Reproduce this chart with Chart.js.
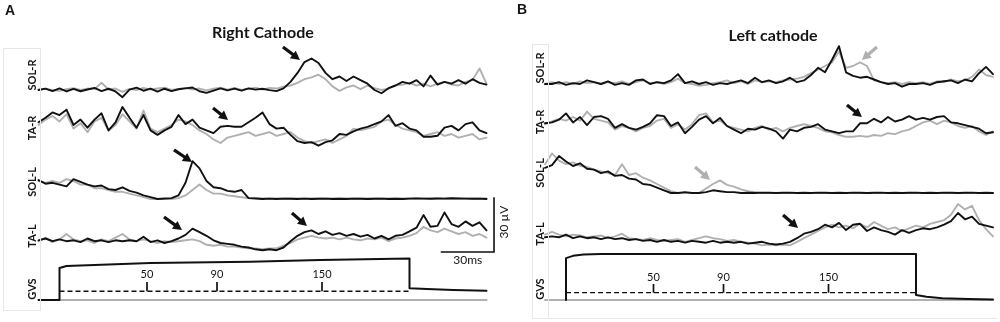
<!DOCTYPE html>
<html><head><meta charset="utf-8">
<script src="https://cdn.jsdelivr.net/npm/chart.js@4.4.1/dist/chart.umd.min.js"></script>
<style>
html,body{margin:0;padding:0;background:#fff;width:1000px;height:322px;overflow:hidden;position:relative}
.wrap{position:absolute;top:0;height:322px}
#wa{left:0;width:520px}
#wb{left:500px;width:500px}
canvas{display:block}
</style></head><body>
<div class="wrap" id="wa"><canvas id="ca" width="520" height="322"></canvas></div>
<div class="wrap" id="wb"><canvas id="cb" width="500" height="322"></canvas></div>
<script>
// ---------------- DATA (time in ms relative to GVS onset, EMG in µV relative to each trace baseline) -------------
const T = [-12,-8,-4,0,4,8,12,16,20,24,28,32,36,40,44,48,52,56,60,64,68,72,76,80,84,88,92,96,100,104,108,112,116,120,124,128,132,136,140,144,148,152,156,160,164,168,172,176,180,184,188,192,196,200,204,208,212,216,220,224,228,232,236,240,244];

// Panel A – Right cathode
const A_SOLR_BLACK = [0,0.8,-0.6,0.9,-0.8,0.6,-0.7,0.3,1.2,-0.6, 0.7,-0.8,-4,0.2,1.3,-0.4,0.8,-0.9,0.7,-0.6, 0.4,0.9,1.4,-0.7,-1.6,-0.3,0.9,-0.2,0.8,-0.3, 0.9,0.2,0.7,-0.1,-0.6,0.9,4.5,9.5,15.5,17.5, 15,9.5,6,7.5,5,7.5,5.5,3.5,0,-1.8, 1,2.5,4.5,3.5,5.5,2,8,3,4.5,3.5, 5.5,3.5,6,4,3];
const A_SOLR_GRAY  = [0.3,0.6,0,-0.5,0.4,1,0,0.8,0.5,4, 0.3,0.8,-1,0.6,0,1.2,0.2,0.8,1.3,0, 0.6,1.2,0.2,0.8,-0.2,0.7,1.3,0.2,1.2,0.1, 0.7,1.3,0.2,1.2,0.8,1.8,2.5,4,6,7, 8.5,6,2,-0.5,1.5,2.5,0.5,2.5,1,0, 0.8,2.5,3,4,2.5,3.5,2,3.5,4.5,3, 2.5,4.5,5.5,12,3.5];
const A_TAR_BLACK  = [1.5,4,7,5.5,8.5,0,3,-1.5,3,6.5, -3,1.5,10,4,-1.5,5.5,-3,-5.5,-3,-1, 5.5,0.5,3,-1.5,-3,-4.5,-1,-0.5,-1,-1, 1.5,4,7,0.5,-2,-1.5,-5.5,-9,-10,-9.5, -11.5,-9.5,-8.5,-5,-5.5,-3.5,-2,-1,0.5,2, 5.5,-0.5,1,-2,-3,-6.5,-6.5,-6,-1.5,-0.5, -3,0.5,1.5,-3,-4.5];
const A_TAR_GRAY   = [0,3,5,2,6,-2,1,-4,2,4, -3,0,6,2,-2,8,-2,-4,-2,0, 3,2,0,-3,-5,-8,-10,-7,-6,-5, -4,-6,-5,-4,-6,-5,-4,-7,-9,-10, -9,-8,-10,-8,-6,-2,-3,-2,-1,2, 3,0,-2,-3,-4,-6,-5,-4,-6,-5, -7,-6,-5,-8,-7];
const A_SOLL_BLACK = [10.5,8.5,9,8,7,11,9.5,8,7,7.5, 5.5,5,6.5,4.5,3.5,2,1,0,0.3,0.5, 2,9,21,17,10,6.5,6,4.5,4,5, 0.5,0.3,0,0.2,0,0.2,0.1,0,0.2,0, 0.1,0.2,0,0.1,0,0.2,0.1,0,0.1,0.2, 0,0.1,0,0.2,0.3,0.2,0.1,0.3,0.2,0.4, 0.3,0.2,0.1,0.2,0];
const A_SOLL_GRAY  = [10,9,10,9,11,10,8,8,6,6, 5,4,4,3,2,1,0,0,0,0, 0.5,2,5,8,5,3,3,2,1.5,1, 0.5,0.5,0.3,0.3,0.3,0.3,0.3,0.3,0.3,0.3, 0.3,0.3,0.3,0.3,0.3,0.3,0.3,0.3,0.3,0.3, 0.3,0.3,0.3,0.3,0.3,0.3,0.3,0.3,0.3,0.3, 0.3,0.3,0.3,0.3,0.3];
const A_TAL_BLACK  = [1.5,2.5,1,2,1,1.5,0.5,2.5,1,1.5, 0.5,1.5,1,1.5,1,3.5,0.5,1.5,0,1, 2.5,4.5,8,6,4,1.5,0,-0.5,-1,-2, -2.5,-3.5,-4,-3.5,-4,-2.5,1,4,6,7, 5,6.5,4.5,5.5,4,5,3.5,4.5,2.5,4, 2,4,4.5,6.5,8.5,15.5,9,9.5,17,10.5, 9,12,9.5,11.5,7];
const A_TAL_GRAY   = [1,3,0.5,2,5,2,1,1.5,0,2, 1,3,5,2,1,2,1,0,1,0.5, 1,1.5,2,1,-1,-1.5,-1,-2,-2,-2.5, -3,-3,-3.5,-3,-3,-1.5,0,2,3,4, 3,2.5,3,2,3,2,1.5,2.5,2,3, 1,2.5,3,4,5.5,9,7,6,8,6.5, 5,6,4,5,3];
const A_GVS_T      = [-12,0,0,4,52,109,149,200,200,210,225,244];
const A_GVS_BLACK  = [0,0,0.76,0.81,0.88,0.91,0.95,0.99,0.28,0.26,0.24,0.22];
const A_GVS_GRAY_T = [0,244];
const A_GVS_GRAY   = [0,0];

// Panel B – Left cathode
const B_SOLR_BLACK = [0,0,1,-0.5,0.5,0,2,1,0,1.5, -0.5,0.5,-0.5,2,2.5,0,1,0.5,2,5.5, 0.5,1.5,0,1,-0.5,0.5,0,1,2,0.5, 3.5,1,2,0.5,1.5,3.5,1,2,5,9, 6.5,13.5,21,6.5,4.5,3.5,4,2.5,1,0, 0.5,-1.5,0,0,0.5,-0.5,1,1.5,2,0.5, 2.5,1.5,6,9.5,5.5];
const B_SOLR_GRAY  = [0,1,0,1,0,1.5,0.5,1,0,1, 0.5,1.5,0,1,2,0.5,1,0,1,3, 0.5,0,-1,-0.5,0.5,1,2,0.5,1.5,0, 2,1,1.5,1,2,2.5,3,4,6,8, 10,12,18,9,10,12,10,2,1,0.5, 1,0,1,0.5,1,0,1.5,1,2.5,1.5, 2,4,8,5,4];
const B_TAR_BLACK  = [1.5,2,3.5,7,2,5,0.5,5,5.5,4, -1,1,-1,-2,-0.5,1.5,6,5.5,0,2, -4,-0.5,3.5,5.5,1.5,4.5,0,-2,-4,-1.5, -2,-0.5,-1.5,-3,-7,-2,-3,-1,-0.5,1, -2,-3,-4,-3,-3,1.5,1.5,4,2,5, 2.5,3.5,5.5,3.5,4.5,3.5,5,5.5,2,1.5, 0.5,-0.5,-1.5,-4,-3.5];
const B_TAR_GRAY   = [1,2.5,4,3,5,3,8,4,3,2, -2,0,-1,-3,-1,0,3,4,-1,1, -2,1,6,7,2,3,0,-1,-2,-3, -1,0,-2,-1,-3,-1,0,1,0,-1, -3,-3.5,-5,-6,-6,-5.5,-6,-5,-5.5,-4, -4.5,-3,-2,0,2,3,1,3,2,0, -1,0,-3,-5,-3];
const B_SOLL_BLACK = [14,15.5,20.5,17.5,15,16.5,13.5,13,11,12, 9.5,10,8,7.5,5,4.5,3,1.5,0,0, 0.5,0,0,0.5,1.5,1,0.5,0.5,0,0.1, 0,0.2,0.1,0,0.1,0.2,0,0.1,0,0.2, 0.1,0,0.1,0,0.2,0.1,0,0.1,0.2,0, 0.1,0,0.1,0.2,0,0.1,0,0.2,0.1,0, 0.1,0.2,0,0.1,0];
const B_SOLL_GRAY  = [16,22,18,16,17,15,14.5,13,12,11, 10,16,10,11,8.5,7,5,3,1,0, 0,0,0,2.5,5,7,4.5,3.5,2,1, 0.5,0,0,0,0,0,0,0,0,0, 0,0,0,0,0,0,0,0,0,0, 0,0,0,0,0,0,0,0,0,0, 0,0,0,0,0];
const B_TAL_BLACK  = [1.5,2,1.5,3,1,2,1,1.5,0.5,1.5, 0.5,1,0,0.5,-0.5,0,-1,0,-1,-0.5, -1.5,-0.5,-1,-1.5,-0.5,-1.5,-1,-1.5,-1,-2, -1.5,-1,-2,-2.5,-2,-1,1,3.5,4.5,6, 8.5,7,9.5,5.5,8.5,9,5,7,5.5,4.5, 3,5.5,4,5.5,6.5,6,7,8.5,10.5,15, 11.5,13,9,8,7];
const B_TAL_GRAY   = [3,4.5,3,2,3,2.5,1.5,2,2.5,1, 2,3.5,1,0.5,0,1,0,-0.5,0,0.5, -1,0,1,2,1,0.5,-0.5,0,-1,-1.5, -2,-3,-2.5,-3,-2.5,-3,-1,1,3,5, 7,8.5,7,8,6.5,9,7,10,8,6, 7,5,6.5,8,7,9,10,11,14,20, 17,19,11,6,2];
const B_GVS_T      = [0,0,4,10,20,200,200,206,215,230,244];
const B_GVS_BLACK  = [0,0.91,0.96,0.99,1,1,0.11,0.07,0.04,0.02,0.01];
const B_GVS_GRAY_T = [-12,244];
const B_GVS_GRAY   = [0,0];

// time markers on the GVS ruler (ms)
const RULER_TICKS = [50, 90, 150];
const RULER_SPAN = [0, 200];
const ROW_NAMES = ['SOL-R','TA-R','SOL-L','TA-L','GVS'];
const SCALE_BAR = {ms: 30, uV: 30};

// ---------------- LAYOUT -------------
const BLACK = '#111111', GRAY = '#b0b0b0';
const AREA_TOP = 40, AREA_BOTTOM = 310;

const PANELS = [
 { id:'A', canvas:'ca', pad:{left:38.5,right:33.5,top:AREA_TOP,bottom:322-AREA_BOTTOM},
   rows:{solR:{base:90,ppu:1.8},taR:{base:125,ppu:1.8},solL:{base:199,ppu:1.8},taL:{base:243,ppu:1.8},gvs:{base:300,ppu:42}},
   traces:{solR:[A_SOLR_BLACK,A_SOLR_GRAY],taR:[A_TAR_BLACK,A_TAR_GRAY],solL:[A_SOLL_BLACK,A_SOLL_GRAY],taL:[A_TAL_BLACK,A_TAL_GRAY]},
   gvs:{t:A_GVS_T,v:A_GVS_BLACK,gt:A_GVS_GRAY_T,gv:A_GVS_GRAY},
   ruler:{level:0.21,top:0.43,label:0.6},
   labelX:32, labelY:[75,128,182,236,289],
   title:{text:'Right Cathode',x:263,y:38}, letter:{text:'A',x:5,y:4},
   frames:[[[3,48],[40,48],[40,310],[3,310],[3,48]]],
   arrows:[{row:'solR',t:137.4,v:16.7,dx:-17,dy:-13,c:BLACK},{row:'taR',t:96.3,v:2.8,dx:-15,dy:-12,c:BLACK},
           {row:'solL',t:75.7,v:20.6,dx:-18,dy:-12,c:BLACK},{row:'taL',t:70,v:7.2,dx:-18,dy:-13,c:BLACK},
           {row:'taL',t:141.4,v:9.4,dx:-15,dy:-13,c:BLACK}],
   bar:{tEnd:248.3,vBase:-5}
 },
 { id:'B', canvas:'cb', pad:{left:45,right:7,top:AREA_TOP,bottom:322-AREA_BOTTOM},
   rows:{solR:{base:84,ppu:1.8},taR:{base:126,ppu:1.8},solL:{base:193,ppu:1.8},taL:{base:240,ppu:1.8},gvs:{base:300,ppu:46}},
   traces:{solR:[B_SOLR_BLACK,B_SOLR_GRAY],taR:[B_TAR_BLACK,B_TAR_GRAY],solL:[B_SOLL_BLACK,B_SOLL_GRAY],taL:[B_TAL_BLACK,B_TAL_GRAY]},
   gvs:{t:B_GVS_T,v:B_GVS_BLACK,gt:B_GVS_GRAY_T,gv:B_GVS_GRAY},
   ruler:{level:0.16,top:0.35,label:0.48},
   labelX:40, labelY:[68,122,173,234,289],
   title:{text:'Left cathode',x:273,y:40.5}, letter:{text:'B',x:17,y:3},
   frames:[[[32,44],[48,44],[48,318],[32,318],[32,44]],[[48,318],[497,318]]],
   arrows:[{row:'solR',t:169.1,v:13.3,dx:15,dy:-13,c:GRAY},{row:'taR',t:169.1,v:5,dx:-15,dy:-12,c:BLACK},
           {row:'solL',t:82.3,v:7.2,dx:-15,dy:-13,c:GRAY},{row:'taL',t:132.6,v:6.7,dx:-15,dy:-13,c:BLACK}],
   bar:null
 }
];

function pts(ts, vs){ return ts.map((t,i)=>({x:t, y:vs[i]})); }
function ds(data, axis, color, order, extra){
  return Object.assign({data, yAxisID:axis, borderColor:color, backgroundColor:color, borderWidth:1.9,
    pointRadius:0, tension:0, fill:false, clip:false, order, borderJoinStyle:'round', borderCapStyle:'round'}, extra||{});
}
function drawArrow(ctx,x1,y1,x2,y2,color){
  const a=Math.atan2(y2-y1,x2-x1), hl=9, hw=4.8;
  const bx=x2-hl*Math.cos(a), by=y2-hl*Math.sin(a);
  ctx.strokeStyle=color; ctx.fillStyle=color; ctx.lineWidth=3.2; ctx.lineCap='butt';
  ctx.beginPath(); ctx.moveTo(x1,y1); ctx.lineTo(bx+1*Math.cos(a),by+1*Math.sin(a)); ctx.stroke();
  ctx.beginPath(); ctx.moveTo(x2,y2);
  ctx.lineTo(bx-hw*Math.sin(a), by+hw*Math.cos(a));
  ctx.lineTo(bx+hw*Math.sin(a), by-hw*Math.cos(a));
  ctx.closePath(); ctx.fill();
}

PANELS.forEach(P=>{
  const scales = {x:{type:'linear', min:-12, max:244, display:false}};
  Object.entries(P.rows).forEach(([k,r])=>{
    scales[k] = {type:'linear', display:false, min:-(AREA_BOTTOM-r.base)/r.ppu, max:(r.base-AREA_TOP)/r.ppu};
  });
  const datasets = [];
  Object.entries(P.traces).forEach(([k,[blk,gry]])=>{
    datasets.push(ds(pts(T,blk), k, BLACK, 0));
    datasets.push(ds(pts(T,gry), k, GRAY, 1));
  });
  datasets.push(ds(pts(P.gvs.t,P.gvs.v),'gvs',BLACK,0,{borderWidth:2}));
  datasets.push(ds(pts(P.gvs.gt,P.gvs.gv),'gvs',GRAY,2,{borderWidth:2}));
  datasets.push(ds([{x:RULER_SPAN[0],y:P.ruler.level},{x:RULER_SPAN[1],y:P.ruler.level}],'gvs',BLACK,0,{borderWidth:1.4,borderDash:[5,3],borderCapStyle:'butt'}));
  const tickPts=[];
  RULER_TICKS.forEach(t=>{ tickPts.push({x:t,y:P.ruler.level},{x:t,y:P.ruler.top},{x:t,y:null}); });
  datasets.push(ds(tickPts,'gvs',BLACK,0,{borderWidth:1.7,spanGaps:false,borderCapStyle:'butt'}));

  const deco = {
    id:'deco'+P.id,
    afterDatasetsDraw(chart){
      const ctx=chart.ctx, xs=chart.scales.x;
      ctx.save();
      ctx.strokeStyle='#e6e6e6'; ctx.lineWidth=1;
      P.frames.forEach(f=>{ ctx.beginPath(); f.forEach((p,i)=> i?ctx.lineTo(p[0]+0.5,p[1]+0.5):ctx.moveTo(p[0]+0.5,p[1]+0.5)); ctx.stroke(); });
      ctx.fillStyle='#151515'; ctx.textAlign='center'; ctx.textBaseline='middle';
      ctx.font='bold 11px Lato';
      ROW_NAMES.forEach((n,i)=>{ ctx.save(); ctx.translate(P.labelX,P.labelY[i]); ctx.rotate(-Math.PI/2); ctx.fillText(n,0,0); ctx.restore(); });
      ctx.font='bold 16px Lato'; ctx.textBaseline='alphabetic';
      ctx.fillText(P.title.text,P.title.x,P.title.y);
      ctx.font='bold 14px "Liberation Sans"'; ctx.textAlign='left'; ctx.textBaseline='top';
      ctx.fillText(P.letter.text,P.letter.x,P.letter.y);
      const g=chart.scales.gvs;
      ctx.font='11px Lato'; ctx.textAlign='center'; ctx.textBaseline='middle';
      RULER_TICKS.forEach(t=> ctx.fillText(String(t), xs.getPixelForValue(t), g.getPixelForValue(P.ruler.label)));
      P.arrows.forEach(a=>{ const ys=chart.scales[a.row]; const x2=xs.getPixelForValue(a.t), y2=ys.getPixelForValue(a.v); drawArrow(ctx,x2+a.dx,y2+a.dy,x2,y2,a.c); });
      if(P.bar){
        const ys=chart.scales.taL;
        const xr=xs.getPixelForValue(P.bar.tEnd), xl=xs.getPixelForValue(P.bar.tEnd-SCALE_BAR.ms);
        const yb=ys.getPixelForValue(P.bar.vBase), yt=ys.getPixelForValue(P.bar.vBase+SCALE_BAR.uV);
        ctx.strokeStyle=BLACK; ctx.lineWidth=1.6; ctx.lineCap='square';
        ctx.beginPath(); ctx.moveTo(xl,yb); ctx.lineTo(xr,yb); ctx.lineTo(xr,yt); ctx.stroke();
        ctx.fillStyle='#151515'; ctx.font='12px Lato'; ctx.textAlign='center'; ctx.textBaseline='top';
        ctx.fillText(SCALE_BAR.ms+'ms',(xl+xr)/2,yb+2);
        ctx.save(); ctx.translate(xr+10,(yb+yt)/2-3); ctx.rotate(-Math.PI/2); ctx.textBaseline='middle';
        ctx.fillText(SCALE_BAR.uV+' µV',0,0); ctx.restore();
      }
      ctx.restore();
    }
  };

  new Chart(document.getElementById(P.canvas),{
    type:'line',
    data:{datasets},
    options:{responsive:false, animation:false, events:[], parsing:true, normalized:true,
      layout:{padding:P.pad},
      plugins:{legend:{display:false}, tooltip:{enabled:false}},
      scales},
    plugins:[deco]
  });
});
</script>
</body></html>
